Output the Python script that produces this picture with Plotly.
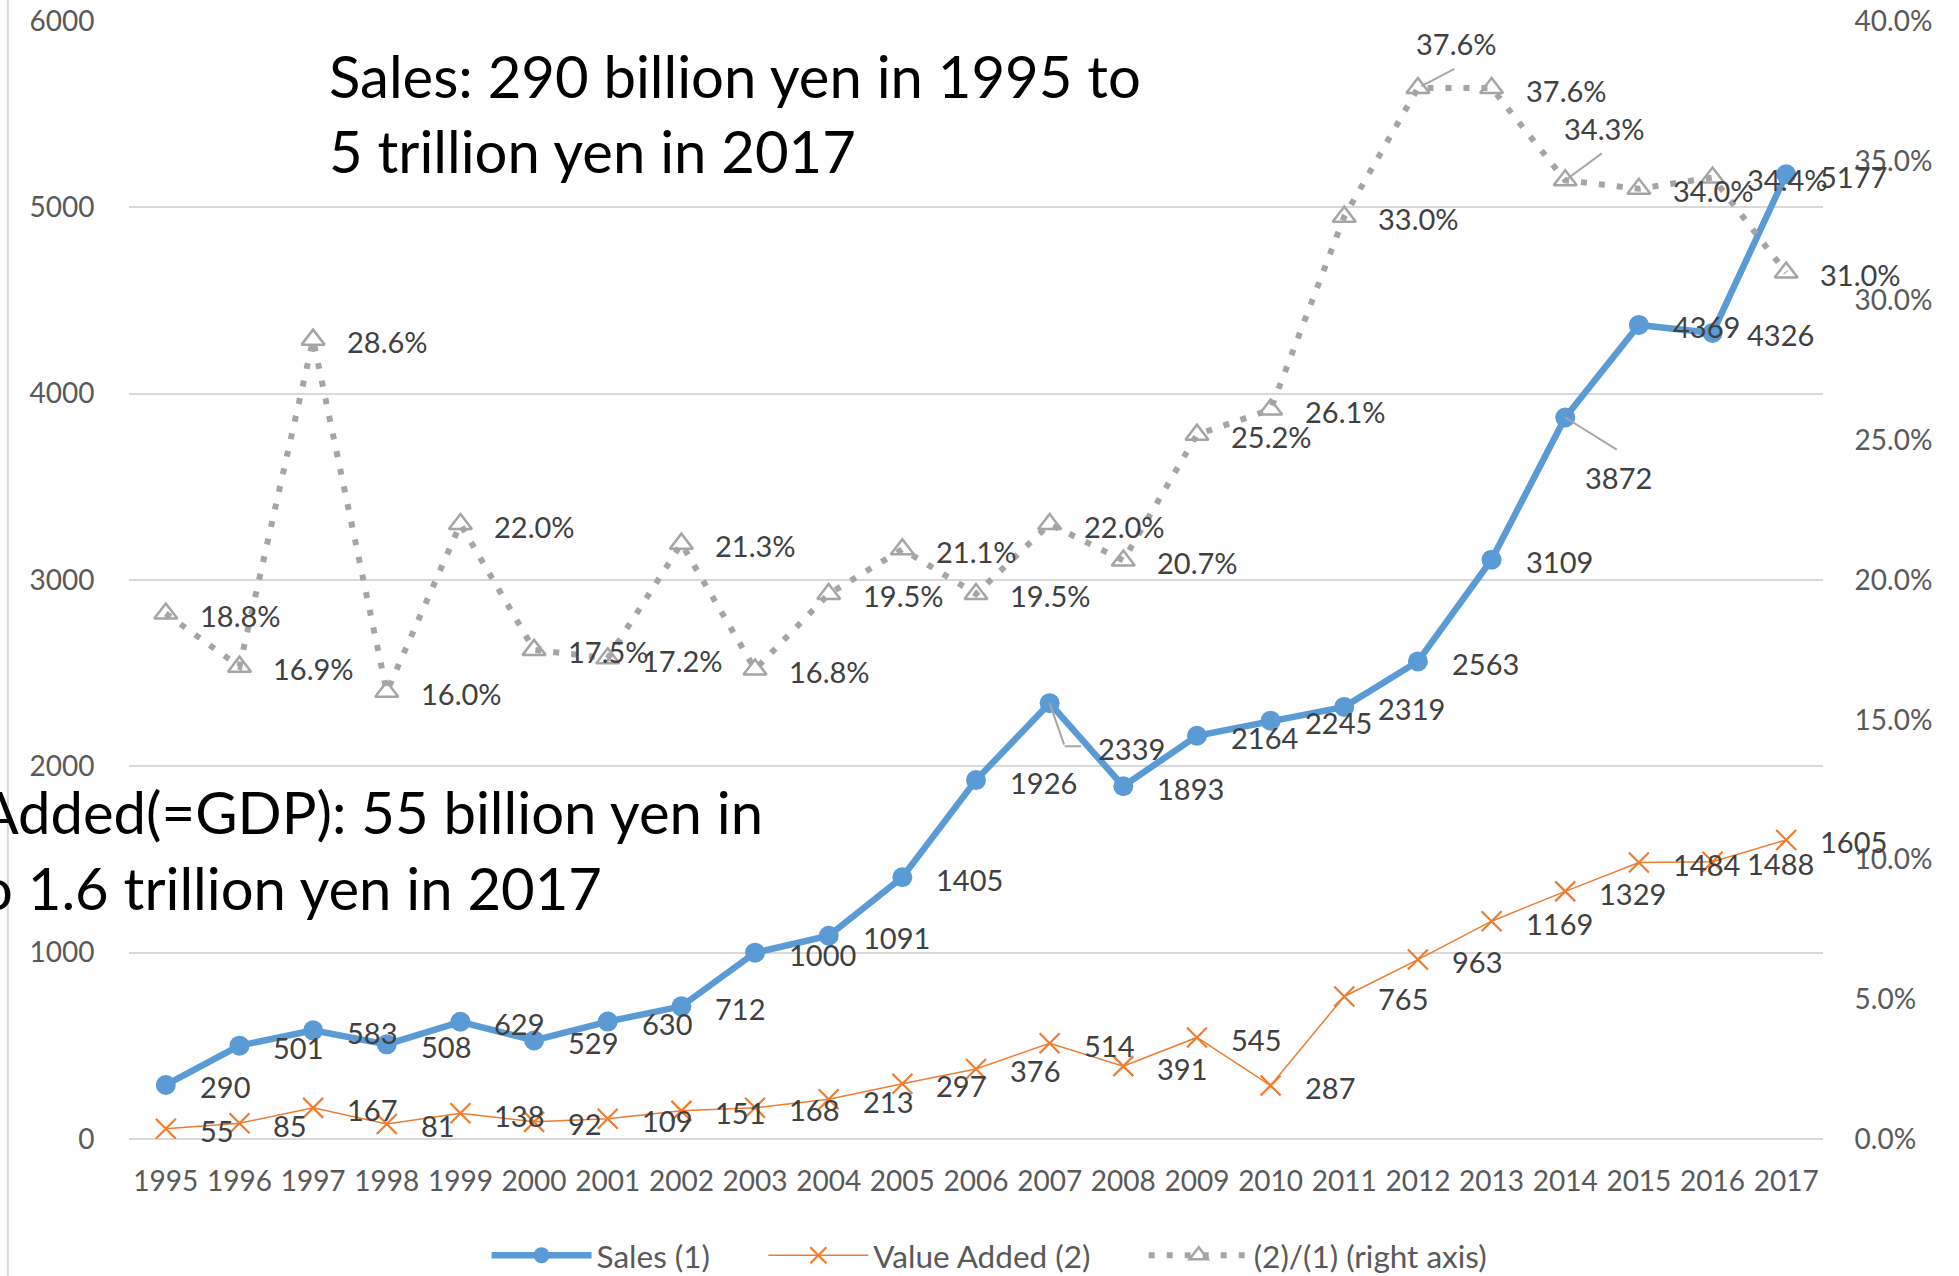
import plotly.graph_objects as go

# Fiscal years on the category axis
years = list(range(1995, 2018))

# Sales (1), in billion yen
sales = [290, 501, 583, 508, 629, 529, 630, 712, 1000, 1091, 1405, 1926,
         2339, 1893, 2164, 2245, 2319, 2563, 3109, 3872, 4369, 4326, 5177]

# Value added (2), in billion yen
value_added = [55, 85, 167, 81, 138, 92, 109, 151, 168, 213, 297, 376,
               514, 391, 545, 287, 765, 963, 1169, 1329, 1484, 1488, 1605]

# Ratio (2)/(1), in percent
ratio_pct = [18.8, 16.9, 28.6, 16.0, 22.0, 17.5, 17.2, 21.3, 16.8, 19.5, 21.1, 19.5,
             22.0, 20.7, 25.2, 26.1, 33.0, 37.6, 37.6, 34.3, 34.0, 34.4, 31.0]

FONT = "Lato, 'Open Sans', sans-serif"
TICK_COLOR = "#595959"
LABEL_COLOR = "#404040"
GRID_COLOR = "#D9D9D9"
LEADER_COLOR = "#A6A6A6"

BLUE = "#5B9BD5"
ORANGE = "#ED7D31"
GRAY = "#A5A5A5"

# Non-breaking padding that widens the gap between legend entries
PAD = "\u00a0" * 6

fig = go.Figure()

fig.add_trace(go.Scatter(
    x=years, y=sales, name="Sales (1)" + PAD, mode="lines+markers",
    line=dict(color=BLUE, width=6.5),
    marker=dict(symbol="circle", size=20, color=BLUE),
))
fig.add_trace(go.Scatter(
    x=years, y=value_added, name="Value Added (2)" + PAD, mode="lines+markers",
    line=dict(color=ORANGE, width=1.5),
    marker=dict(symbol="x-thin-open", size=20, color=ORANGE,
                line=dict(color=ORANGE, width=2.2)),
))
fig.add_trace(go.Scatter(
    x=years, y=[p / 100 for p in ratio_pct], name="(2)/(1) (right axis)",
    mode="lines+markers", yaxis="y2",
    line=dict(color=GRAY, width=6, dash="6px,12px"),
    marker=dict(symbol="triangle-up-open", size=20, color=GRAY,
                line=dict(color=GRAY, width=2.5)),
))

# Data labels: by default to the right of each point
DX, DY = 32, -2
LABEL_SIZE = 29
annotations = []


def add_label(x, y, text, yref, xshift=DX, yshift=DY, xanchor="left"):
    annotations.append(dict(
        x=x, y=y, xref="x", yref=yref, text=text, showarrow=False,
        xanchor=xanchor, yanchor="middle", xshift=xshift, yshift=yshift,
        font=dict(family=FONT, size=LABEL_SIZE, color=LABEL_COLOR),
    ))


def add_leader(x, y, yref, ax, ay, xshift=0, yshift=0, standoff=0):
    annotations.append(dict(
        x=x, y=y, xref="x", yref=yref, text="", showarrow=True,
        arrowhead=0, arrowwidth=2, arrowcolor=LEADER_COLOR,
        ax=ax, ay=ay, xshift=xshift, yshift=yshift, standoff=standoff,
        font=dict(size=1),
    ))


for yr, v in zip(years, sales):
    if yr == 2007:
        add_label(yr, v, str(v), "y", xshift=46, yshift=-45)
        add_leader(yr, v, "y", ax=15, ay=43)
        add_leader(yr, v, "y", ax=18, ay=0, xshift=15, yshift=-43)
    elif yr == 2014:
        add_label(yr, v, str(v), "y", xshift=53, yshift=-60, xanchor="center")
        add_leader(yr, v, "y", ax=53, ay=33)
    else:
        add_label(yr, v, str(v), "y")

for yr, v in zip(years, value_added):
    add_label(yr, v, str(v), "y")

for yr, p in zip(years, ratio_pct):
    txt = f"{p:.1f}%"
    if yr == 2012:
        add_label(yr, p / 100, txt, "y2", xshift=39, yshift=45, xanchor="center")
        add_leader(yr, p / 100, "y2", ax=38, ay=-20, standoff=4)
    elif yr == 2014:
        add_label(yr, p / 100, txt, "y2", xshift=39, yshift=52, xanchor="center")
        add_leader(yr, p / 100, "y2", ax=38, ay=-28, standoff=4)
    else:
        add_label(yr, p / 100, txt, "y2")

# Headline text boxes
BIG = dict(family=FONT, size=58, color="#000000")
annotations += [
    dict(x=0.1169, y=0.951, xref="paper", yref="paper", showarrow=False,
         xanchor="left", yanchor="middle", font=BIG,
         text="Sales: 290 billion yen in 1995 to"),
    dict(x=0.1169, y=0.884, xref="paper", yref="paper", showarrow=False,
         xanchor="left", yanchor="middle", font=BIG,
         text="5 trillion yen in 2017"),
    dict(x=0.3754, y=0.2925, xref="paper", yref="paper", showarrow=False,
         xanchor="right", yanchor="middle", font=BIG,
         text="Value Added(=GDP): 55 billion yen in"),
    dict(x=0.2804, y=0.2254, xref="paper", yref="paper", showarrow=False,
         xanchor="right", yanchor="middle", font=BIG,
         text="1995 to 1.6 trillion yen in 2017"),
]

fig.update_layout(
    width=1959, height=1276,
    margin=dict(l=129, r=136, t=21, b=137, autoexpand=False),
    paper_bgcolor="white", plot_bgcolor="white",
    font=dict(family=FONT, size=28, color=TICK_COLOR),
    showlegend=True,
    legend=dict(orientation="h", x=0.508, xanchor="center", y=-0.104, yanchor="middle",
                font=dict(family=FONT, size=31.5, color=TICK_COLOR),
                itemwidth=100, bgcolor="rgba(0,0,0,0)"),
    xaxis=dict(range=[1994.5, 2017.5], tickmode="array", tickvals=years,
               ticktext=[str(y) for y in years], showgrid=False, zeroline=False,
               ticks="outside", ticklen=17, tickcolor="rgba(0,0,0,0)",
               tickfont=dict(size=28, color=TICK_COLOR)),
    yaxis=dict(range=[0, 6000], dtick=1000, tickformat="d",
               showgrid=True, gridcolor=GRID_COLOR, gridwidth=2,
               zeroline=True, zerolinecolor=GRID_COLOR, zerolinewidth=2,
               ticks="outside", ticklen=28, tickcolor="rgba(0,0,0,0)",
               tickfont=dict(size=28, color=TICK_COLOR)),
    yaxis2=dict(range=[0, 0.40], dtick=0.05, tickformat=".1%", overlaying="y",
                side="right", showgrid=False, zeroline=False,
                ticks="outside", ticklen=25, tickcolor="rgba(0,0,0,0)",
                tickfont=dict(size=28, color=TICK_COLOR)),
    annotations=annotations,
    shapes=[dict(type="line", xref="paper", yref="paper",
                 x0=-0.0715, x1=-0.0715, y0=-0.13, y1=1.03,
                 line=dict(color=GRID_COLOR, width=2))],
)

fig.write_html("out.html")
